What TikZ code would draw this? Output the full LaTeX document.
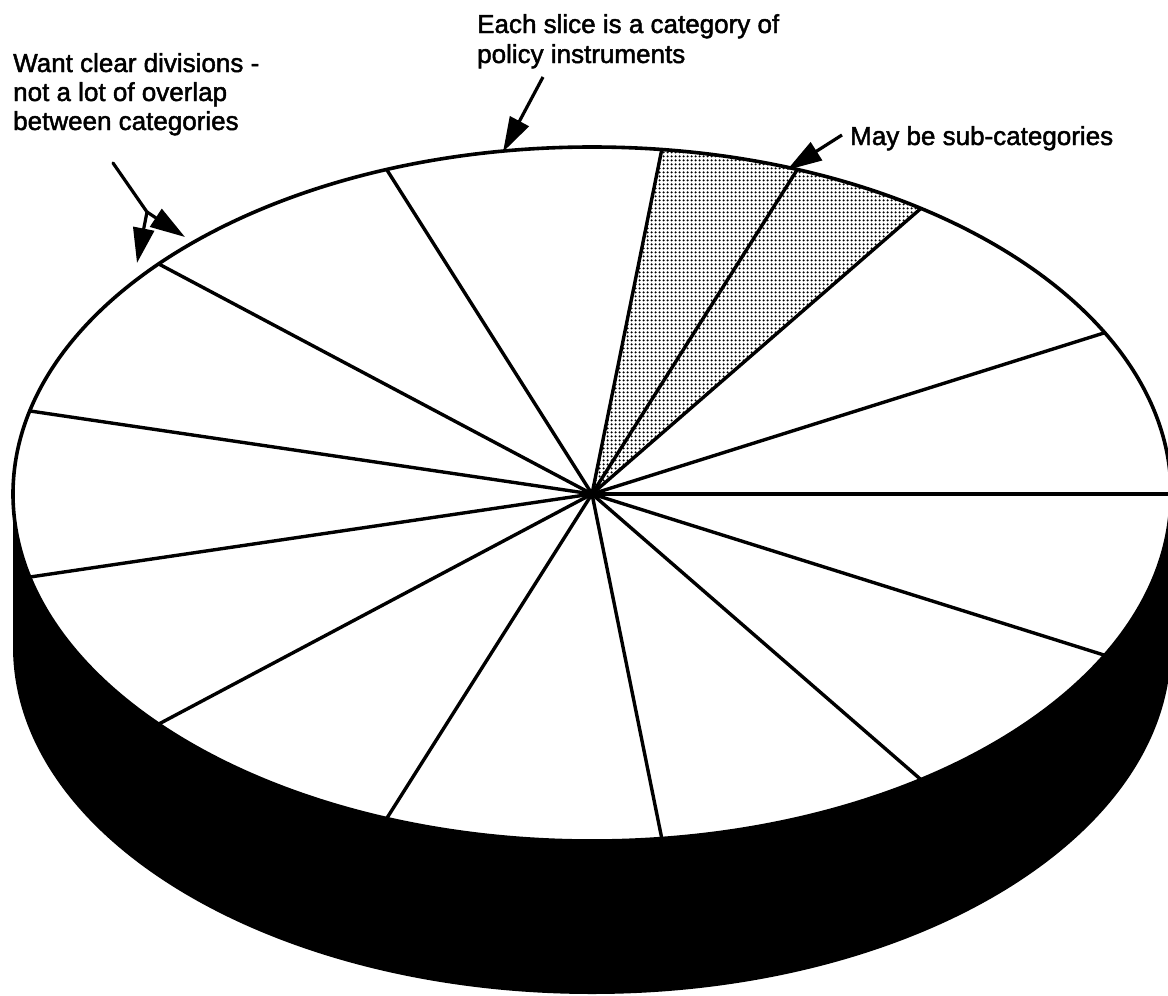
\documentclass[tikz,border=0pt]{standalone}
\usepackage{fontspec}
\setmainfont{Liberation Sans}
\newfontfamily\lblfont{Liberation Sans}[FakeBold=1.8]
\usetikzlibrary{arrows.meta,patterns.meta,calc}
\begin{document}
\begin{tikzpicture}[x=1pt,y=1pt,
  lbl/.style={anchor=base west, inner sep=0pt, font=\lblfont\fontsize{26pt}{30pt}\selectfont},
  spoke/.style={line width=3.4pt},
  rim/.style={line width=3.6pt},
  shaft/.style={line width=3.2pt},
  callout/.style={line width=3.2pt, -{Triangle[length=35pt,width=21pt]}},
  band/.style={fill=black},
  subfill/.style={pattern={Dots[distance=4pt,radius=1.45pt]}}]
\useasboundingbox (0,0) rectangle (1168,-996);
\def\rx{579}\def\ry{347}\def\dep{153}
\coordinate (C) at (592,-494);
% side band
\fill[band] (13,-494) -- (13,{-494-\dep})
  arc[start angle=180,end angle=360,x radius=\rx,y radius=\ry]
  -- (1171,-494)
  arc[start angle=0,end angle=-180,x radius=\rx,y radius=\ry] -- cycle;
% top face
\fill[white] (C) ellipse[x radius=\rx,y radius=\ry];
% shaded sector
\fill[subfill] (C) -- ++({\rx*cos(720/13)},{\ry*sin(720/13)})
  arc[start angle={720/13},end angle={1080/13},x radius=\rx,y radius=\ry] -- cycle;
% spokes
\foreach \k in {0,...,12}{
  \draw[spoke] (C) -- ++({\rx*cos(\k*360/13)},{\ry*sin(\k*360/13)});
}
\draw[spoke] (C) -- ++({\rx*cos(900/13)},{\ry*sin(900/13)});
\fill (C) circle[radius=5];
% rim
\draw[rim] (C) ellipse[x radius=\rx,y radius=\ry];
% labels
\node[lbl] (w1) at (13,-72) {Want clear divisions -};
\node[lbl] (w2) at (13,-101) {not a lot of overlap};
\node[lbl] (w3) at (13,-130) {between categories};
\node[lbl] (e1) at (477,-33) {Each slice is a category of};
\node[lbl] (e2) at (477,-63) {policy instruments};
\node[lbl] (m1) at (850,-145) {May be sub-categories};
% arrow coordinates
\coordinate (wS) at (113,-163);
\coordinate (wF) at (147,-212);
\coordinate (wA) at (185,-237);
\coordinate (wB) at (137,-263);
\coordinate (eS) at (543,-77);
\coordinate (eT) at (503,-152);
\coordinate (mS) at (842,-135);
\coordinate (mT) at (787,-170);
\draw[shaft,line cap=round] (wS) -- (wF);
\draw[callout] (wF) -- (wA);
\draw[callout] (wF) -- (wB);
\draw[callout] (eS) -- (eT);
\draw[callout] (mS) -- (mT);
\end{tikzpicture}
\end{document}
